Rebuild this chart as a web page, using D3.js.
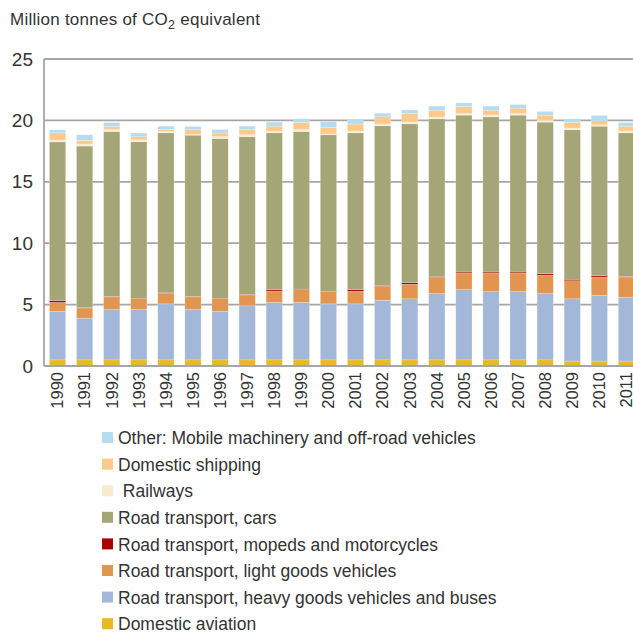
<!DOCTYPE html>
<html>
<head>
<meta charset="utf-8">
<script src="https://cdn.jsdelivr.net/npm/d3@7"></script>
<style>
  body { margin: 0; background: #fff; }
  svg text { font-family: "Liberation Sans", Arial, sans-serif; fill: #333; }
</style>
</head>
<body>
<svg id="chart"></svg>
<script>
const width = 633, height = 632;
const margin = { top: 59, right: -7, bottom: 266, left: 44 };

const years = ["1990", "1991", "1992", "1993", "1994", "1995", "1996", "1997", "1998", "1999", "2000",
    "2001", "2002", "2003", "2004", "2005", "2006", "2007", "2008", "2009", "2010", "2011"];

// series values, million tonnes CO2 eq
const aviation = [0.5, 0.5, 0.5, 0.5, 0.5, 0.5, 0.5, 0.5, 0.5, 0.5, 0.5, 0.5, 0.5, 0.5, 0.5, 0.5, 0.5, 0.5, 0.5, 0.4, 0.4, 0.4];
const heavyGoods = [3.95, 3.4, 4.1, 4.1, 4.56, 4.1, 3.96, 4.4, 4.69, 4.69, 4.56, 4.56, 4.86, 4.97, 5.4, 5.72, 5.56, 5.56, 5.4, 5.07, 5.36, 5.2];
const lightGoods = [0.73, 0.83, 1.03, 0.89, 0.87, 1.03, 1.03, 0.89, 0.92, 1.03, 1.0, 1.03, 1.16, 1.19, 1.32, 1.36, 1.52, 1.52, 1.51, 1.48, 1.49, 1.65];
const mopeds = [0.14, 0.02, 0.03, 0.03, 0.03, 0.03, 0.03, 0.04, 0.11, 0.04, 0.03, 0.13, 0.05, 0.13, 0.04, 0.08, 0.08, 0.08, 0.11, 0.11, 0.11, 0.04];
const cars = [12.93, 13.16, 13.44, 12.74, 13.03, 13.14, 13.01, 12.84, 12.77, 12.84, 12.74, 12.77, 12.99, 12.93, 12.87, 12.77, 12.63, 12.77, 12.34, 12.18, 12.17, 11.7];
const railways = [0.14, 0.16, 0.16, 0.16, 0.11, 0.06, 0.14, 0.16, 0.11, 0.16, 0.05, 0.14, 0.14, 0.14, 0.14, 0.13, 0.14, 0.13, 0.14, 0.13, 0.11, 0.14];
const shipping = [0.6, 0.3, 0.24, 0.25, 0.16, 0.38, 0.3, 0.43, 0.43, 0.57, 0.54, 0.57, 0.59, 0.7, 0.56, 0.57, 0.4, 0.44, 0.43, 0.46, 0.33, 0.4];
const other = [0.24, 0.46, 0.33, 0.3, 0.27, 0.27, 0.29, 0.27, 0.33, 0.3, 0.49, 0.32, 0.3, 0.3, 0.33, 0.3, 0.33, 0.29, 0.3, 0.3, 0.43, 0.3];

const yTicks = [0, 5, 10, 15, 20, 25];

// bottom to top stacking order
const series = [
    { key: "aviation", label: "Domestic aviation", values: aviation, color: "#e7b922" },
    { key: "heavy", label: "Road transport, heavy goods vehicles and buses", values: heavyGoods, color: "#a3b8d9" },
    { key: "light", label: "Road transport, light goods vehicles", values: lightGoods, color: "#e2954e" },
    { key: "mopeds", label: "Road transport, mopeds and motorcycles", values: mopeds, color: "#a80000" },
    { key: "cars", label: "Road transport, cars", values: cars, color: "#a4a677" },
    { key: "rail", label: " Railways", values: railways, color: "#f8ebcf" },
    { key: "shipping", label: "Domestic shipping", values: shipping, color: "#fdca8b" },
    { key: "other", label: "Other: Mobile machinery and off-road vehicles", values: other, color: "#b5dcf1" }
];

const table = years.map((yr, i) => {
    const row = { year: yr };
    series.forEach(s => row[s.key] = s.values[i]);
    return row;
});

const svg = d3.select("#chart").attr("width", width).attr("height", height);

const x = d3.scaleBand()
    .domain(years)
    .range([margin.left, width - margin.right])
    .paddingInner(0.4)
    .paddingOuter(0.2);

const y = d3.scaleLinear()
    .domain([0, 25])
    .range([height - margin.bottom, margin.top]);

// title
const title = svg.append("text")
    .attr("x", 10)
    .attr("y", 25)
    .style("font-size", "17px")
    .style("letter-spacing", "0.25px");
title.append("tspan").text("Million tonnes of CO");
title.append("tspan").attr("dy", 4).style("font-size", "12.5px").text("2");
title.append("tspan").attr("dy", -4).text(" equivalent");

// grid
svg.append("g")
    .selectAll("line")
    .data(yTicks.filter(d => d > 0))
    .join("line")
    .attr("x1", margin.left)
    .attr("x2", width)
    .attr("y1", d => y(d))
    .attr("y2", d => y(d))
    .attr("stroke", "#a6a6a6")
    .attr("stroke-width", 1.8);

// y axis
svg.append("g")
    .attr("transform", `translate(${margin.left},0)`)
    .call(d3.axisLeft(y).tickValues(yTicks).tickSize(0).tickPadding(11))
    .call(g => g.select(".domain").remove())
    .call(g => g.selectAll(".tick text")
        .style("font-size", "19px")
        .attr("fill", "#333"));

// stacked bars
const stack = d3.stack().keys(series.map(s => s.key));
const layers = stack(table);

svg.append("g")
    .selectAll("g")
    .data(layers)
    .join("g")
    .attr("fill", (d, i) => series[i].color)
    .selectAll("rect")
    .data(d => d)
    .join("rect")
    .attr("x", d => x(d.data.year))
    .attr("width", x.bandwidth())
    .attr("y", d => y(d[1]))
    .attr("height", d => y(d[0]) - y(d[1]))
    .attr("stroke", "#fff")
    .attr("stroke-opacity", 0.35)
    .attr("stroke-width", 0.6);

// frame: left and bottom
svg.append("line")
    .attr("x1", margin.left).attr("x2", margin.left)
    .attr("y1", y(25)).attr("y2", y(0))
    .attr("stroke", "#a6a6a6").attr("stroke-width", 1.8);
svg.append("line")
    .attr("x1", margin.left).attr("x2", width)
    .attr("y1", y(0)).attr("y2", y(0))
    .attr("stroke", "#a6a6a6").attr("stroke-width", 1.8);

// x axis
svg.append("g")
    .attr("transform", `translate(0,${y(0)})`)
    .call(d3.axisBottom(x).tickSize(0).tickPadding(0))
    .call(g => g.select(".domain").remove())
    .call(g => g.selectAll(".tick text")
        .attr("transform", "rotate(-90)")
        .attr("x", -6)
        .attr("y", 0)
        .attr("dy", "0.35em")
        .attr("text-anchor", "end")
        .style("font-size", "16.5px")
        .attr("fill", "#333"));

// legend, top entry first
const legend = svg.append("g")
    .selectAll("g")
    .data(series.slice().reverse())
    .join("g")
    .attr("transform", (d, i) => `translate(102,${438 + i * 26.6})`);

legend.append("rect")
    .attr("y", -6)
    .attr("width", 11)
    .attr("height", 11)
    .attr("fill", d => d.color);

legend.append("text")
    .attr("x", 16)
    .attr("dy", "0.35em")
    .attr("xml:space", "preserve")
    .style("white-space", "pre")
    .style("font-size", "17.5px")
    .text(d => d.label);
</script>
</body>
</html>
